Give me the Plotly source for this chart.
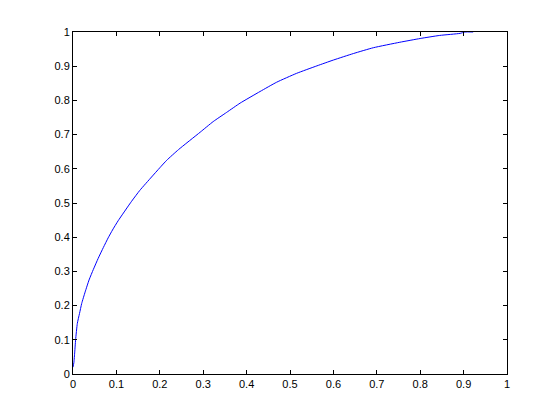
import plotly.graph_objects as go

fpr = [0.0, 0.002, 0.004, 0.006, 0.010, 0.015, 0.020, 0.028, 0.037, 0.047, 0.058,
       0.070, 0.081, 0.091, 0.104, 0.135, 0.154, 0.181, 0.200, 0.216, 0.243,
       0.293, 0.323, 0.354, 0.385, 0.431, 0.469, 0.515, 0.562, 0.600, 0.646,
       0.692, 0.753, 0.800, 0.845, 0.892, 0.903, 0.922]
tpr = [0.020, 0.033, 0.064, 0.100, 0.148, 0.177, 0.206, 0.240, 0.275, 0.306, 0.338,
       0.370, 0.398, 0.421, 0.448, 0.505, 0.537, 0.576, 0.603, 0.625, 0.656,
       0.707, 0.738, 0.765, 0.792, 0.826, 0.853, 0.879, 0.901, 0.918, 0.937,
       0.954, 0.970, 0.981, 0.990, 0.996, 1.000, 1.000]

tick_vals = [0, 0.1, 0.2, 0.3, 0.4, 0.5, 0.6, 0.7, 0.8, 0.9, 1]
tick_text = ["0", "0.1", "0.2", "0.3", "0.4", "0.5", "0.6", "0.7", "0.8", "0.9", "1"]

fig = go.Figure()
fig.add_trace(go.Scatter(x=fpr, y=tpr, mode="lines",
                         line=dict(color="rgb(0,0,255)", width=1, shape="spline", smoothing=0.5),
                         showlegend=False, hoverinfo="skip"))

axis_common = dict(
    range=[0, 1], tickvals=tick_vals, ticktext=tick_text,
    showline=True, linecolor="black", linewidth=1, mirror="allticks",
    ticks="inside", ticklen=4, tickwidth=1, tickcolor="black",
    showgrid=False, zeroline=False,
    tickfont=dict(family="Liberation Sans, Arial, sans-serif", size=11, color="black"),
)

fig.update_layout(
    width=552, height=412,
    margin=dict(l=65, r=53, t=24, b=46),
    paper_bgcolor="white", plot_bgcolor="white",
    xaxis=dict(**axis_common),
    yaxis=dict(**axis_common),
)

fig.write_html("out.html")
